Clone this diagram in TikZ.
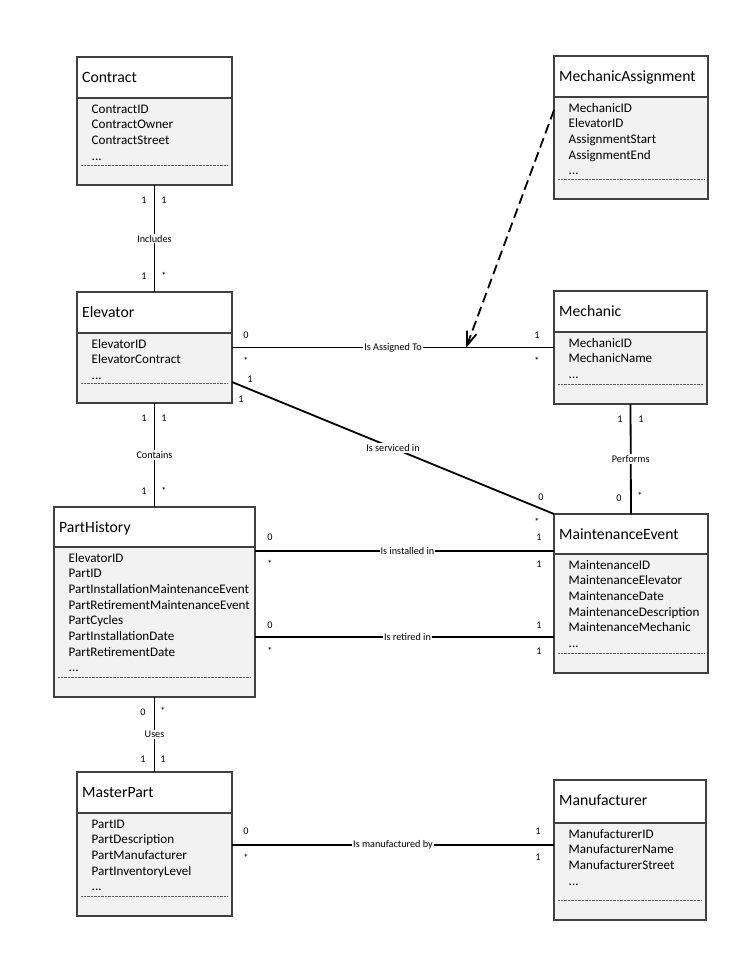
\documentclass[tikz,border=0pt]{standalone}
\usepackage{fontspec}
\setmainfont{Carlito}
\usetikzlibrary{arrows.meta}
\definecolor{bodyfill}{HTML}{F2F2F2}
\definecolor{boxline}{HTML}{404040}
\newcommand\ellip{...}
\tikzset{
  classbox/.style={draw=boxline, line width=1.2pt, inner sep=0pt, outer sep=0pt},
  classtitle/.style={inner sep=0pt, font=\fontsize{15.7}{18}\selectfont},
  classattr/.style={inner sep=0pt, font=\fontsize{13.1}{15}\selectfont},
  divline/.style={draw=boxline, line width=1.1pt},
  dotline/.style={draw=black!65, line width=0.8pt, dash pattern=on 0.8pt off 0.6pt},
  assoc/.style={draw=black, line width=1.8pt},
  assoclabel/.style={fill=white, inner sep=1pt, font=\fontsize{10.2}{12}\selectfont},
  mult/.style={inner sep=0pt, anchor=base, font=\fontsize{10.2}{12}\selectfont},
  depline/.style={draw=black, line width=1.8pt, dash pattern=on 10pt off 5pt,
    -{Straight Barb[length=14pt,width=10pt,line width=1.8pt]}}
}
% name, x1, y1, x2, y2, ydiv, title, attributes
\newcommand\umlclass[8]{%
  \fill[white] (#2,#3) rectangle (#4,#6);
  \fill[bodyfill] (#2,#6) rectangle (#4,#5);
  \draw[divline] (#2,#6) -- (#4,#6);
  \draw[dotline] ({#2+4},{#5-20}) -- ({#4-4},{#5-20});
  \node[classbox, minimum width={#4-#2}, minimum height={#5-#3}, anchor=north west] (#1) at (#2,#3) {};
  \node[classtitle, anchor=base west] (#1-t) at ({#2+5},{#3+25.5}) {#7};
  \foreach \a [count=\i] in {#8} {
    \node[classattr, anchor=base west] (#1-a\i) at ({#2+14.5},{#6+15+(\i-1)*15.7}) {\a};
  }%
}
\newcommand\mlab[4]{\node[mult] (#1) at (#2,#3) {#4};}
\begin{document}
\begin{tikzpicture}[x=1pt,y=-1pt]
\useasboundingbox[fill=white] (0,0) rectangle (752,953);

\umlclass{contract}{77}{57}{232}{185}{98}{Contract}{ContractID,ContractOwner,ContractStreet,\ellip}
\umlclass{mechassign}{554}{56}{708}{199}{97}{MechanicAssignment}{MechanicID,ElevatorID,AssignmentStart,AssignmentEnd,\ellip}
\umlclass{elevator}{77}{292}{232}{403}{333}{Elevator}{ElevatorID,ElevatorContract,\ellip}
\umlclass{mechanic}{554}{291}{707}{404}{332}{Mechanic}{MechanicID,MechanicName,\ellip}
\umlclass{parthist}{54}{507}{255}{697}{547}{PartHistory}{ElevatorID,PartID,PartInstallationMaintenanceEvent,PartRetirementMaintenanceEvent,PartCycles,PartInstallationDate,PartRetirementDate,\ellip}
\umlclass{maint}{554}{514}{708}{673}{554}{MaintenanceEvent}{MaintenanceID,MaintenanceElevator,MaintenanceDate,MaintenanceDescription,MaintenanceMechanic,\ellip}
\umlclass{masterpart}{77}{772}{232}{916}{813}{MasterPart}{PartID,PartDescription,PartManufacturer,PartInventoryLevel,\ellip}
\umlclass{manuf}{554}{780}{706}{920}{823}{Manufacturer}{ManufacturerID,ManufacturerName,ManufacturerStreet,\ellip}

% associations
\draw[assoc] (contract.south) -- node[assoclabel] (lincl) {Includes} (elevator.north);
\draw[assoc] (elevator.east) -- node[assoclabel] (lassign) {Is Assigned To} (mechanic.west);
\draw[assoc] (elevator.east |- 0,382) -- node[assoclabel] (lserv) {Is serviced in} (maint.north west);
\draw[assoc] (elevator.south) -- node[assoclabel] (lcont) {Contains} (parthist.north);
\draw[assoc] (mechanic.south) -- node[assoclabel] (lperf) {Performs} (maint.north);
\draw[assoc] (parthist.east |- 0,551) -- node[assoclabel, pos=0.51] (linst) {Is installed in} (maint.west |- 0,551);
\draw[assoc] (parthist.east |- 0,637) -- node[assoclabel, pos=0.51] (lret) {Is retired in} (maint.west |- 0,637);
\draw[assoc] (parthist.south) -- node[assoclabel] (luses) {Uses} (masterpart.north);
\draw[assoc] (masterpart.east |- 0,845) -- node[assoclabel] (lmanu) {Is manufactured by} (manuf.west |- 0,845);

% dependency
\coordinate (assignpt) at (466,348);
\draw[depline] (mechassign.west |- 0,110) -- (assignpt);

% multiplicities
\mlab{m1}{144}{203}{1}\mlab{m2}{164}{203}{1}\mlab{m3}{144}{279}{1}\mlab{m4}{164}{279}{*}
\mlab{m5}{246}{338}{0}\mlab{m6}{246}{364}{*}\mlab{m7}{537}{338}{1}\mlab{m8}{537}{364}{*}
\mlab{m9}{250}{382}{1}\mlab{m10}{241}{402}{1}\mlab{m11}{541}{500}{0}\mlab{m12}{537}{525}{*}
\mlab{m13}{144}{421}{1}\mlab{m14}{164}{421}{1}\mlab{m15}{144}{494}{1}\mlab{m16}{164}{494}{*}
\mlab{m17}{620}{422}{1}\mlab{m18}{641}{422}{1}\mlab{m19}{619}{501}{0}\mlab{m20}{640}{499}{*}
\mlab{m21}{270}{540}{0}\mlab{m22}{270}{567}{*}\mlab{m23}{539}{540}{1}\mlab{m24}{539}{567}{1}
\mlab{m25}{270}{628}{0}\mlab{m26}{270}{654}{*}\mlab{m27}{539}{628}{1}\mlab{m28}{539}{654}{1}
\mlab{m29}{143}{715}{0}\mlab{m30}{163}{714}{*}\mlab{m31}{143}{762}{1}\mlab{m32}{163}{762}{1}
\mlab{m33}{246}{834}{0}\mlab{m34}{246}{861}{*}\mlab{m35}{538}{834}{1}\mlab{m36}{538}{860}{1}
\end{tikzpicture}
\end{document}
